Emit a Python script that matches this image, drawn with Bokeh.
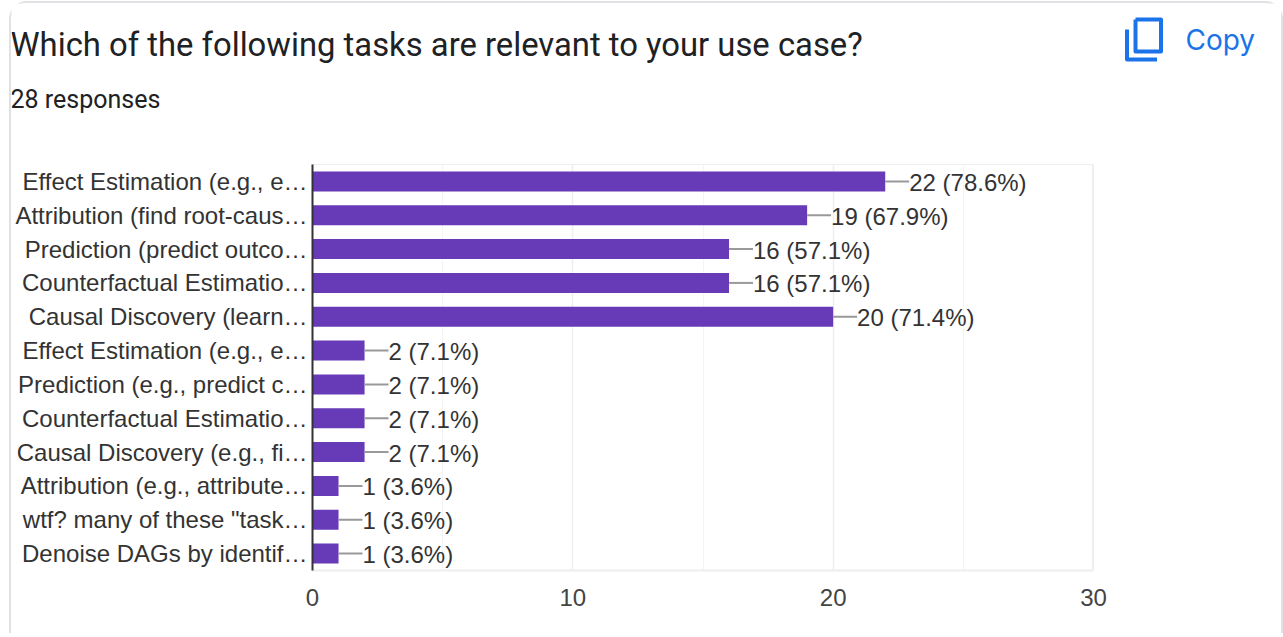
from bokeh.core.properties import value
from bokeh.embed import file_html
from bokeh.layouts import column
from bokeh.models import ColumnDataSource, FixedTicker, Span
from bokeh.plotting import figure
from bokeh.resources import INLINE

TITLE = "Which of the following tasks are relevant to your use case?"
RESPONSES = "28 responses"
COPY = "Copy"

tasks = [
    "Effect Estimation (e.g., e…",
    "Attribution (find root-caus…",
    "Prediction (predict outco…",
    "Counterfactual Estimatio…",
    "Causal Discovery (learn…",
    "Effect Estimation (e.g., e…",
    "Prediction (e.g., predict c…",
    "Counterfactual Estimatio…",
    "Causal Discovery (e.g., fi…",
    "Attribution (e.g., attribute…",
    "wtf? many of these \"task…",
    "Denoise DAGs by identif…",
]
counts = [22, 19, 16, 16, 20, 2, 2, 2, 2, 1, 1, 1]
shares = [78.6, 67.9, 57.1, 57.1, 71.4, 7.1, 7.1, 7.1, 7.1, 3.6, 3.6, 3.6]
x_ticks = [0, 10, 20, 30]
x_minor = [5, 15, 25]

INK = "#202124"
LABEL = "#333333"
PURPLE = "#673ab7"
GRID = "#eeeeee"
BLUE = "#1a73e8"
EDGE = "#e0e1e4"

# Page geometry: card content box, then the plot frame inside it
CARD_L, CARD_T, CARD_R, CARD_B = 11, 3, 1281, 633
LEFT, RIGHT, TOP, BOTTOM = 312, 1093, 164, 570
STEM = 0.92  # leader length, in axis units

# Heading strip, addressed in page pixels
head = figure(
    width=CARD_R - CARD_L, height=TOP - CARD_T, output_backend="svg", toolbar_location=None,
    x_range=(CARD_L, CARD_R), y_range=(TOP, CARD_T),
    min_border=0, outline_line_color=None, frame_align=False,
)
head.axis.visible = False
head.grid.visible = False
head.text(x=[10], y=[44], text=[TITLE], text_font=value("Roboto"), text_font_size="32.8px",
          text_color=INK, text_baseline="middle")
head.text(x=[10], y=[99], text=[RESPONSES], text_font=value("Roboto"), text_font_size="25px",
          text_color=INK, text_baseline="middle")
head.line(x=[1135, 1160.5, 1160.5, 1135, 1135], y=[19, 19, 51, 51, 19], line_color=BLUE, line_width=4,
          line_join="round")
head.line(x=[1126.5, 1126.5, 1156.5], y=[29, 59, 59], line_color=BLUE, line_width=4, line_join="round")
head.text(x=[1185], y=[39.5], text=[COPY], text_font=value("Inter"), text_font_size="28px",
          text_color=BLUE, text_baseline="middle")

# Horizontal bar chart, first task at the top
rows = list(range(len(tasks)))
source = ColumnDataSource(dict(
    row=rows,
    count=counts,
    stem_end=[c + STEM for c in counts],
    text=[f"{c} ({s}%)" for c, s in zip(counts, shares)],
))

p = figure(
    width=CARD_R - CARD_L, height=CARD_B - TOP, output_backend="svg", toolbar_location=None,
    x_range=(x_ticks[0], x_ticks[-1]), y_range=(len(tasks) - 0.5, -0.5),
    min_border_left=LEFT - CARD_L, min_border_right=CARD_R - RIGHT, min_border_top=0,
    min_border_bottom=CARD_B - BOTTOM, frame_align=False,
)

p.outline_line_color = GRID
p.ygrid.grid_line_color = None
p.xgrid.ticker = FixedTicker(ticks=x_ticks, minor_ticks=x_minor)
p.xgrid.grid_line_color = GRID
p.xgrid.grid_line_width = 1.5
p.xgrid.minor_grid_line_color = "#f4f4f4"

p.xaxis.ticker = FixedTicker(ticks=x_ticks)
p.xaxis.axis_line_color = GRID
p.xaxis.axis_line_width = 2
p.xaxis.major_tick_line_color = None
p.xaxis.minor_tick_line_color = None
p.xaxis.major_label_text_font = "Liberation Sans"
p.xaxis.major_label_text_font_size = "24px"
p.xaxis.major_label_text_color = "#444444"
p.xaxis.major_label_standoff = 12

p.yaxis.ticker = FixedTicker(ticks=rows)
p.yaxis.major_label_overrides = dict(zip(rows, tasks))
p.yaxis.axis_line_color = "#333333"
p.yaxis.axis_line_width = 2
p.yaxis.major_tick_line_color = None
p.yaxis.minor_tick_line_color = None
p.yaxis.major_label_text_font = "Liberation Sans"
p.yaxis.major_label_text_font_size = "24px"
p.yaxis.major_label_text_color = LABEL
p.yaxis.major_label_standoff = -1

p.add_layout(Span(location=x_ticks[-1], dimension="height", line_color=GRID, line_width=3))

p.hbar(y="row", left=0, right="count", height=0.59, source=source, fill_color=PURPLE, line_color=None)
p.segment(x0="count", x1="stem_end", y0="row", y1="row", source=source, line_color="#999999", line_width=2)
p.text(x="stem_end", y="row", text="text", source=source, x_offset=0, y_offset=1,
       text_baseline="middle", text_font=value("Liberation Sans"), text_font_size="24px", text_color=LABEL)

# The card: a rounded outline open at the bottom
card = column(
    head, p, spacing=0, margin=(1, 0, 0, 9),
    styles={
        "border-top": f"2px solid {EDGE}",
        "border-left": f"2px solid {EDGE}",
        "border-right": f"2px solid {EDGE}",
        "border-radius": "18px 18px 0 0",
    },
)

open("out.html", "w").write(file_html(card, INLINE))
